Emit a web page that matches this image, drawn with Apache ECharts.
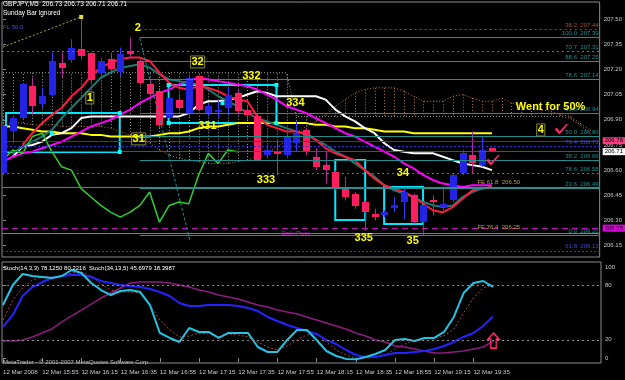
<!DOCTYPE html>
<html>
<head>
<meta charset="utf-8">
<script src="https://cdn.jsdelivr.net/npm/echarts@6/dist/echarts.min.js"></script>
<style>html,body{margin:0;background:#000}#chart{width:625px;height:380px}</style>
</head>
<body>
<div id="chart"></div>
<script>
// GBPJPY M5, 12 Mar 2008
var times = ['15:35','15:40','15:45','15:50','15:55','16:00','16:05','16:10','16:15','16:20',
  '16:25','16:30','16:35','16:40','16:45','16:50','16:55','17:00','17:05','17:10',
  '17:15','17:20','17:25','17:30','17:35','17:40','17:45','17:50','17:55','18:00',
  '18:05','18:10','18:15','18:20','18:25','18:30','18:35','18:40','18:45','18:50',
  '18:55','19:00','19:05','19:10','19:15','19:20','19:25','19:30','19:35','19:40','19:45'];
var opens = [206.58,206.83,206.91,207.10,206.99,207.05,207.24,207.26,207.32,207.30,
  207.18,207.26,207.18,207.31,207.25,207.11,207.07,206.91,207.02,206.94,
  207.16,206.94,206.95,206.97,207.06,206.96,206.92,206.69,206.71,206.69,
  206.76,206.84,206.68,206.63,206.59,206.50,206.46,206.41,206.34,206.33,
  206.37,206.41,206.45,206.29,206.42,206.38,206.42,206.58,206.69,206.63,206.73];
var closes = [206.86,206.91,207.11,206.98,207.04,207.25,207.21,207.33,207.28,207.14,
  207.25,207.20,207.29,207.29,207.12,207.05,206.87,207.03,206.97,207.15,
  206.96,206.98,206.96,207.05,206.95,206.93,206.66,206.72,206.70,206.80,
  206.82,206.71,206.62,206.60,206.49,206.44,206.39,206.35,206.32,206.35,
  206.39,206.47,206.29,206.39,206.41,206.40,206.57,206.70,206.64,206.72,206.71];
var lows = [206.57,206.76,206.90,206.94,206.97,207.04,207.15,207.24,207.26,207.12,
  207.16,207.18,207.16,207.27,207.11,207.02,206.85,206.86,206.96,206.92,
  206.95,206.92,206.91,206.93,206.93,206.90,206.66,206.67,206.57,206.67,
  206.71,206.69,206.60,206.52,206.48,206.42,206.37,206.24,206.30,206.32,
  206.35,206.31,206.28,206.21,206.33,206.36,206.41,206.57,206.58,206.62,206.71];
var highs = [206.87,206.91,207.12,207.15,207.09,207.30,207.30,207.38,207.51,207.30,
  207.27,207.30,207.33,207.39,207.26,207.14,207.09,207.12,207.05,207.17,
  207.16,207.00,207.02,207.09,207.08,206.99,206.93,206.75,206.78,206.84,
  206.89,206.85,206.73,206.71,206.60,206.56,206.47,206.42,206.37,206.36,
  206.44,206.49,206.46,206.39,206.45,206.49,206.58,206.72,206.83,206.80,206.73];

var maRed = [null,null,206.75,206.82,206.88,206.93,206.97,207.04,207.09,207.16,
  207.21,207.24,207.26,207.27,207.27,207.25,207.18,207.12,207.09,207.08,
  207.10,207.09,207.07,207.04,207.02,207.01,206.92,206.87,206.85,206.83,
  206.83,206.82,206.78,206.73,206.70,206.68,206.66,206.60,206.55,206.51,
  206.49,206.47,206.44,206.40,206.36,206.35,206.38,206.43,206.48,206.49,206.50];
var maTeal = [null,206.70,206.74,206.77,206.80,206.84,206.91,206.97,207.03,207.09,
  207.15,207.18,207.21,207.22,207.23,207.21,207.17,207.14,207.13,207.12,
  207.11,207.08,207.04,207.01,206.98,206.94,206.91,206.89,206.87,206.85,
  206.83,206.81,206.78,206.75,206.71,206.68,206.64,206.60,206.56,206.51,
  206.48,206.46,206.44,206.41,206.39,206.38,206.39,206.44,206.47,206.49,206.50];
var maMagenta = [206.65,206.68,206.70,206.71,206.73,206.75,206.77,206.80,206.83,206.86,
  206.88,206.90,206.93,206.96,207.00,207.03,207.06,207.08,207.11,207.13,
  207.15,207.14,207.13,207.12,207.11,207.10,207.08,207.05,207.02,206.98,
  206.96,206.94,206.91,206.88,206.85,206.82,206.80,206.77,206.74,206.71,
  206.68,206.64,206.61,206.57,206.54,206.52,206.51,206.50,206.51,206.51,206.51];
var maWhite = [null,206.68,206.74,206.75,206.77,206.81,206.82,206.85,206.91,206.92,
  206.92,206.92,206.92,206.92,206.92,206.92,206.92,206.92,206.92,206.94,
  206.99,207.01,207.01,207.02,207.03,207.05,207.07,207.06,207.04,207.04,
  207.04,207.04,207.04,207.02,206.96,206.92,206.89,206.85,206.82,206.76,
  206.72,206.71,206.70,206.70,206.70,206.68,206.66,206.64,206.63,206.62,206.60];
var maYellow = [206.86,206.86,206.85,206.84,206.83,206.83,206.82,206.82,206.82,206.81,
  206.81,206.80,206.80,206.80,206.80,206.80,206.81,206.82,206.82,206.83,
  206.85,206.86,206.86,206.87,206.88,206.88,206.88,206.88,206.88,206.88,
  206.88,206.88,206.87,206.87,206.86,206.86,206.85,206.85,206.84,206.83,
  206.83,206.83,206.82,206.82,206.82,206.82,206.82,206.82,206.82,206.82,206.82];
var chikou = [206.66,206.72,206.70,206.80,206.82,206.71,206.62,206.60,206.49,206.44,
  206.39,206.35,206.32,206.35,206.39,206.47,206.29,206.39,206.41,206.40,
  206.57,206.70,206.64,206.72,206.71];
var spanA = [206.88,206.88,206.88,206.87,206.87,206.87,206.86,206.86,206.86,206.86,
  206.86,206.85,206.83,206.81,206.79,206.76,206.72,206.69,206.67,206.66,
  206.65,206.64,206.64,206.64,206.65,206.66,206.68,206.70,206.74,206.77,
  206.82,206.86,206.89,206.93,206.98,207.02,207.06,207.08,207.09,207.09,
  207.09,207.07,207.04,207.01,207.01,207.01,207.04,207.05,207.03,207.01,
  207.01,207.03,207.00,206.98,206.97,206.96,206.95,206.93,206.92,206.88,206.84];
var spanB = [207.18,207.18,207.18,207.18,207.18,207.18,207.18,207.18,207.18,207.18,
  207.18,207.18,207.18,207.18,207.18,207.18,207.18,207.18,207.18,207.18,
  207.18,207.18,207.18,207.18,207.18,207.18,207.18,207.18,207.18,207.18,
  206.92,206.92,206.92,206.92,206.92,206.92,206.92,206.92,206.92,206.92,
  206.92,206.92,206.92,206.92,206.92,206.92,206.92,206.92,206.92,206.92,
  206.92,206.92,206.92,206.92,206.92,206.92,206.92,206.92,206.91,206.87,206.82];

var stMain = [58.2,80.2,92.3,90.1,89.0,87.9,90.1,96.7,93.4,82.4,
  74.7,69.2,73.6,74.7,72.5,58.2,27.5,22.0,17.6,33.0,
  28.6,28.6,22.0,27.5,27.5,27.5,12.1,6.6,6.6,19.8,
  30.8,30.8,19.8,7.7,2.2,-1,-1.5,1.1,4.4,8.8,
  19.8,20.9,18.7,22.0,22.0,28.6,45.1,71.4,82.4,84.6,78.1];
var stSignal = [41.8,63.7,76.9,85.7,89.0,89.0,90.1,93.4,94.5,90.1,
  81.3,74.7,72.5,72.5,71.4,58.2,41.8,30.8,23.1,24.2,
  27.5,26.4,23.1,26.4,25.3,23.1,17.6,12.1,8.8,13.2,
  19.8,25.3,26.4,17.6,8.8,3.3,0,0,1.1,3.3,
  9.9,15.4,18.7,20.9,22.0,24.2,31.9,49.5,65.9,76.9,80.2];
var stSlow = [34.1,47.3,68.1,78.0,83.5,87.9,90.1,91.2,91.2,89.0,
  84.6,82.4,80.2,79.1,78.0,75.8,72.5,68.1,60.4,57.1,
  57.1,58.2,58.2,58.2,57.1,54.9,51.6,45.1,40.7,36.3,
  33.0,29.7,26.4,19.8,15.4,8.8,3.3,1.1,1.1,3.3,
  5.5,5.5,6.6,7.7,9.9,13.2,17.6,23.1,27.5,35.2,45.7];
var stSlowSig = [18.7,18.7,19.8,23.1,27.5,31.9,39.6,46.2,52.7,59.3,
  65.9,71.4,76.9,82.4,83.5,83.5,83.5,82.4,80.2,78.0,
  74.7,72.5,69.2,67.0,64.8,61.5,58.2,56.0,52.7,50.5,
  48.4,45.1,41.8,38.5,35.2,31.9,27.5,24.2,19.8,17.6,
  13.2,12.1,9.9,7.7,5.5,5.5,6.6,7.7,9.9,12.1,18.4];

var priceTicks = [206.15,206.30,206.45,206.60,206.75,206.90,207.05,207.20,207.35,207.50];
var stochTicks = [0,20,80,100];
var timeTicks = [0,4,8,12,16,20,24,28,32,36,40,44,48];
var fibNames = ['100.0','88.6','78.6','61.8','50.0','38.2','23.6','0.0'];
var fibPrices = [207.39,207.25,207.14,206.94,206.80,206.66,206.49,206.21];
var dotNames = ['70.7','78.6'];
var dotPrices = [207.31,206.58];
var blueNames = ['76.4','61.8'];
var bluePrices = [206.75,206.13];

var FONT = 'Liberation Sans';
var myChart = echarts.init(document.getElementById('chart'));

function pts(arr) {
    var out = [];
    arr.forEach(function (v, i) { if (v != null) out.push([i, v]); });
    return out;
}
function seg(from, v, color, type, label) {
    return [{coord: [from, v], lineStyle: {color: color, type: type, width: 1}, label: label || {show: false}},
            {coord: [61.02, v]}];
}
function endText(text, color) {
    return {show: true, position: 'insideEndTop', distance: 1, formatter: text,
        color: color, fontSize: 6, fontFamily: FONT};
}
function tag(text, bg) {
    return {show: true, position: 'end', distance: 3, formatter: text, color: '#000',
        backgroundColor: bg, padding: [1, 2, 0, 2], fontSize: 6, fontFamily: FONT};
}
function note(t, x, y, boxed, size) {
    var lb = {show: true, position: 'inside', formatter: t, color: '#ffff00',
        fontSize: size || 11, fontWeight: 'bold', fontFamily: FONT};
    if (boxed) { lb.borderColor = '#8a8a40'; lb.borderWidth = 1; lb.padding = [1, 1, 0, 1]; }
    return {coord: [x, y], symbol: 'circle', symbolSize: 1, itemStyle: {color: 'rgba(0,0,0,0)'}, label: lb};
}
function small(t, x, y, color) {
    return {coord: [x, y], symbol: 'circle', symbolSize: 1, itemStyle: {color: 'rgba(0,0,0,0)'},
        label: {show: true, position: 'inside', formatter: t, color: color, fontSize: 6, fontFamily: FONT}};
}
function handle(x, y, color) {
    return {coord: [x, y], symbol: 'rect', symbolSize: 4, itemStyle: {color: color || '#00ffff'}, label: {show: false}};
}

var levelLines = [];
fibPrices.forEach(function (v, k) {
    levelLines.push(seg(13.98, v, '#1f8f8f', 'solid', endText(fibNames[k] + '  ' + v.toFixed(2), '#1f8f8f')));
});
dotPrices.forEach(function (v, k) {
    levelLines.push(seg(-0.1, v, '#1f8f8f', [2, 3], endText(dotNames[k] + '  ' + v.toFixed(2), '#1f8f8f')));
});
bluePrices.forEach(function (v, k) {
    levelLines.push(seg(-0.1, v - 0.01, '#3030e0', [2, 2], endText(blueNames[k] + '  ' + v.toFixed(2), '#4545d8')));
});
levelLines.push(seg(13.98, 207.44, '#8a4a2a', [2, 3], endText('38.2  207.44', '#a0522d')));
levelLines.push(seg(-0.1, 206.775, '#a000a0', 'solid', tag('206.78', '#ff3b7f')));
levelLines.push(seg(-0.1, 206.71, '#505050', 'solid', tag('206.71', '#ffffff')));
levelLines.push(seg(-0.1, 206.50, '#9c6a3c', 'solid'));
levelLines.push(seg(-0.1, 206.255, '#c010c0', [6, 4], tag('206.25', '#e000e0')));
levelLines.push(seg(-0.1, 206.225, '#8e8e20', 'solid'));
// trend lines
levelLines.push([{coord: [0, 207.333], lineStyle: {color: '#b8a838', type: [2, 2], width: 1}, label: {show: false}}, {coord: [8, 207.512]}]);
levelLines.push([{coord: [-0.3, 207.393], lineStyle: {color: '#3434e0', type: [2, 2], width: 1}, label: {show: false}}, {coord: [56.5, 207.274]}]);
levelLines.push([{coord: [13.98, 207.387], lineStyle: {color: '#1f8f8f', type: [3, 2], width: 1}, label: {show: false}}, {coord: [19.1, 206.185]}]);

var cyanBox = {color: 'rgba(0,0,0,0)', borderColor: '#00e8ff', borderWidth: 2};

var option = {
    backgroundColor: '#000',
    animation: false,
    textStyle: {fontFamily: FONT},
    title: [
        {text: 'GBPJPY,M5  206.73 206.73 206.71 206.71', left: 3, top: 1, padding: 0,
            textStyle: {color: '#fff', fontSize: 6.5, fontWeight: 'normal', fontFamily: FONT}},
        {text: 'Sunday Bar ignored', left: 3, top: 10, padding: 0,
            textStyle: {color: '#fff', fontSize: 6.5, fontWeight: 'normal', fontFamily: FONT}},
        {text: 'FL 50.0', left: 3, top: 24, padding: 0,
            textStyle: {color: '#5050d0', fontSize: 6, fontWeight: 'normal', fontFamily: FONT}},
        {text: 'Stoch(14,3,3) 78.1250 80.2216  Stoch(34,13,5) 45.6979 18.3987', left: 3, top: 265, padding: 0,
            textStyle: {color: '#fff', fontSize: 6, fontWeight: 'normal', fontFamily: FONT}},
        {text: 'MetaTrader - \u00a9 2001-2007 MetaQuotes Software Corp.', left: 3, top: 359, padding: 0,
            textStyle: {color: '#c0c0c0', fontSize: 6, fontWeight: 'normal', fontFamily: FONT}}
    ],
    grid: [
        {left: 2, top: 2, width: 599, height: 255, show: true, borderColor: '#8c8c8c', borderWidth: 1},
        {left: 2, top: 262, width: 599, height: 101, show: true, borderColor: '#8c8c8c', borderWidth: 1}
    ],
    xAxis: [
        {gridIndex: 0, type: 'value', min: -0.1, max: 61.02,
            axisLine: {show: false}, axisTick: {show: false}, axisLabel: {show: false}, splitLine: {show: false}},
        {gridIndex: 1, type: 'value', min: -0.1, max: 61.02,
            axisLine: {show: false}, splitLine: {show: false},
            axisTick: {show: true, customValues: timeTicks, length: 4, lineStyle: {color: '#8c8c8c'}},
            axisLabel: {customValues: timeTicks, align: 'left', color: '#c8c8c8', fontSize: 6.2, margin: 6,
                formatter: function (v) { var i = Math.round(v); return i === 0 ? '12 Mar 2008' : '12 Mar ' + times[i]; }}}
    ],
    yAxis: [
        {gridIndex: 0, type: 'value', position: 'right', min: 206.083, max: 207.601,
            axisLine: {show: false}, splitLine: {show: false},
            axisTick: {show: true, customValues: priceTicks, length: 3, lineStyle: {color: '#8c8c8c'}},
            axisLabel: {customValues: priceTicks, color: '#c8c8c8', fontSize: 6, margin: 4,
                formatter: function (v) { return v.toFixed(2); }}},
        {gridIndex: 1, type: 'value', position: 'right', min: -5.5, max: 105.5,
            axisLine: {show: false}, splitLine: {show: false},
            axisTick: {show: true, customValues: stochTicks, length: 3, lineStyle: {color: '#8c8c8c'}},
            axisLabel: {customValues: stochTicks, color: '#c8c8c8', fontSize: 6, margin: 4}}
    ],
    series: [
        {
            name: 'kumo', type: 'custom', xAxisIndex: 0, yAxisIndex: 0, z: 1, clip: true,
            encode: {x: 0, y: [1, 2]},
            data: spanA.map(function (a, i) { return [i, a, spanB[i]]; }),
            renderItem: function (params, api) {
                var x = api.value(0), a = api.value(1), b = api.value(2);
                var pa = api.coord([x, a]), pb = api.coord([x, b]);
                var px = Math.round(pa[0]) + 0.5;
                return {type: 'line', shape: {x1: px, y1: pa[1], x2: px, y2: pb[1]},
                    style: {stroke: a > b ? '#b8743c' : '#9a9a9a', lineWidth: 1, lineDash: [1, 2]}};
            }
        },
        {name: 'Senkou A', type: 'line', z: 1, showSymbol: false, data: pts(spanA),
            lineStyle: {color: '#c87a3c', width: 1, type: [1, 2]}},
        {name: 'Senkou B', type: 'line', z: 1, showSymbol: false, data: pts(spanB),
            lineStyle: {color: '#a0a0a0', width: 1, type: [1, 2]},
            markLine: {silent: true, symbol: ['none', 'none'], data: levelLines}},
        {name: 'MA yellow', type: 'line', z: 2, showSymbol: false, data: pts(maYellow), lineStyle: {color: '#ffff00', width: 2}},
        {name: 'MA white', type: 'line', z: 2, showSymbol: false, data: pts(maWhite), lineStyle: {color: '#ffffff', width: 2}},
        {name: 'MA magenta', type: 'line', z: 2, showSymbol: false, data: pts(maMagenta), lineStyle: {color: '#ff00ff', width: 2}},
        {name: 'MA teal', type: 'line', z: 2, showSymbol: false, data: pts(maTeal), lineStyle: {color: '#1f7a72', width: 2}},
        {name: 'MA red', type: 'line', z: 2, showSymbol: false, data: pts(maRed), lineStyle: {color: '#ff1c40', width: 2}},
        {name: 'Chikou', type: 'line', z: 2, showSymbol: false, data: pts(chikou), lineStyle: {color: '#34cc34', width: 1.5}},
        {
            name: 'GBPJPY', type: 'custom', z: 4, clip: true,
            encode: {x: 0, y: [1, 2, 3, 4]},
            data: opens.map(function (o, i) { return [i, o, closes[i], lows[i], highs[i]]; }),
            renderItem: function (params, api) {
                var i = api.value(0), o = api.value(1), c = api.value(2);
                var po = api.coord([i, o]), pc = api.coord([i, c]);
                var pl = api.coord([i, api.value(3)]), ph = api.coord([i, api.value(4)]);
                var up = c >= o;
                var x = Math.round(po[0]);
                var top = Math.round(Math.min(po[1], pc[1]));
                var bh = Math.max(Math.round(Math.abs(po[1] - pc[1])), 2);
                return {type: 'group', children: [
                    {type: 'line', shape: {x1: x + 0.5, y1: ph[1], x2: x + 0.5, y2: pl[1]},
                        style: {stroke: up ? '#3838ff' : '#b02a9a', lineWidth: 1}},
                    {type: 'rect', shape: {x: x - 3, y: top, width: 7, height: bh},
                        style: {fill: up ? '#2424e6' : '#ff1f5e'}}
                ]};
            }
        },
        {
            name: 'objects', type: 'line', z: 6, data: [],
            markArea: {silent: true, data: [
                [{coord: [0.31, 206.94], itemStyle: cyanBox}, {coord: [11.94, 206.708]}],
                [{coord: [16.94, 207.107], itemStyle: cyanBox}, {coord: [27.96, 206.881]}],
                [{coord: [33.98, 206.661], itemStyle: cyanBox}, {coord: [37.04, 206.304]}],
                [{coord: [38.98, 206.50], itemStyle: cyanBox}, {coord: [42.96, 206.28]}]
            ]},
            markPoint: {silent: true, data: [
                handle(11.94, 206.94), handle(11.94, 206.708), handle(5.0, 206.821),
                handle(16.94, 207.107), handle(16.94, 206.881), handle(27.96, 207.107),
                handle(27.96, 206.881), handle(22.45, 207.0),
                handle(8, 207.512, '#e8e040'),
                note('2', 13.78, 207.446), note('32', 19.9, 207.244, true), note('1', 8.88, 207.03, true),
                note('332', 25.4, 207.161), note('334', 29.9, 207.0), note('31', 13.88, 206.786, true),
                note('331', 20.9, 206.863), note('333', 26.9, 206.542), note('34', 40.9, 206.583),
                note('335', 36.9, 206.197), note('35', 41.9, 206.179), note('4', 55.0, 206.839, true),
                note('Went for 50%', 56.0, 206.976),
                small('Daily Pivot', 29.9, 206.226, '#c020c0'),
                small('FE 61.8  206.50', 50.7, 206.525, '#b8a040'),
                small('FE 76.4  206.25', 50.7, 206.262, '#b8a040'),
                {coord: [57.1, 206.845], symbol: 'path://M0,6 L2,4 L5,8 L13,0 L14,1 L5,11 Z', symbolSize: [13, 11],
                    itemStyle: {color: '#ff2a6a'}, label: {show: false}},
                {coord: [50.1, 206.661], symbol: 'path://M0,6 L2,4 L5,8 L13,0 L14,1 L5,11 Z', symbolSize: [13, 11],
                    itemStyle: {color: '#ff2a6a'}, label: {show: false}}
            ]}
        },
        {name: 'Stoch34 signal', type: 'line', xAxisIndex: 1, yAxisIndex: 1, showSymbol: false,
            data: pts(stSlowSig), lineStyle: {color: '#8e1c80', width: 1.5},
            markLine: {silent: true, symbol: ['none', 'none'], label: {show: false},
                lineStyle: {color: '#8c8c8c', type: [2, 3], width: 1},
                data: [{yAxis: 20}, {yAxis: 80}]}},
        {name: 'Stoch14 signal', type: 'line', xAxisIndex: 1, yAxisIndex: 1, showSymbol: false,
            data: pts(stSignal), lineStyle: {color: '#a04848', width: 1, type: [2, 2]}},
        {name: 'Stoch34', type: 'line', xAxisIndex: 1, yAxisIndex: 1, showSymbol: false,
            data: pts(stSlow), lineStyle: {color: '#2424ff', width: 2}},
        {name: 'Stoch14', type: 'line', xAxisIndex: 1, yAxisIndex: 1, showSymbol: false,
            data: pts(stMain), lineStyle: {color: '#22c4e4', width: 2},
            markPoint: {silent: true, data: [
                {coord: [50.05, 19.2], symbol: 'path://M6,0 L12,6 L9,6 L9,15 L3,15 L3,6 L0,6 Z', symbolSize: [11, 15],
                    itemStyle: {color: 'rgba(0,0,0,0)', borderColor: '#ff2a6a', borderWidth: 1.5}, label: {show: false}}
            ]}}
    ]
};

myChart.setOption(option);
</script>
</body>
</html>
